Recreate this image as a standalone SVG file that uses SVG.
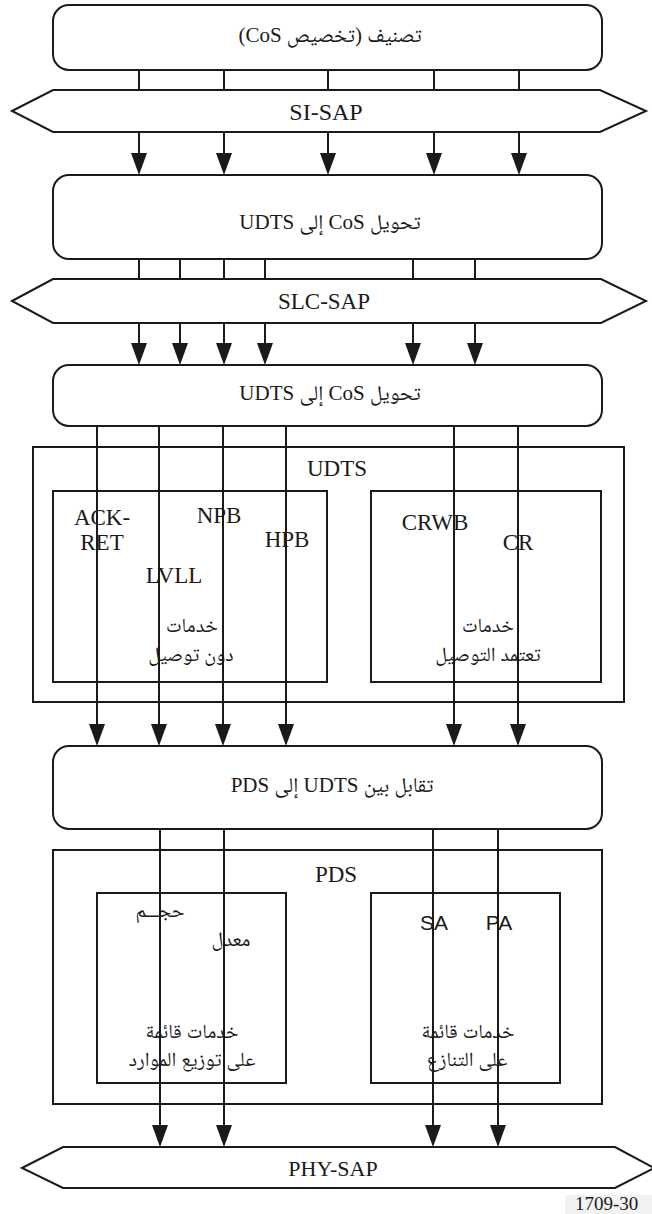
<svg xmlns="http://www.w3.org/2000/svg" width="652" height="1214" viewBox="0 0 652 1214">
<style>
.box{fill:#fff;stroke:#1a1a1a;stroke-width:2}
.frame{fill:none;stroke:#1a1a1a;stroke-width:2}
.ln{stroke:#1a1a1a;stroke-width:2;fill:none}
.arr{stroke:#1a1a1a;stroke-width:2;fill:none;marker-end:url(#ah)}
.t{font-family:"Liberation Serif","Noto Naskh Arabic","DejaVu Sans",serif;font-size:23px;fill:#1a1a1a;text-anchor:middle}
.ar{font-family:"Liberation Serif","Noto Naskh Arabic","DejaVu Sans",serif;font-size:20px;fill:#1a1a1a;text-anchor:middle;direction:rtl}
.s{font-family:"Liberation Sans",Arial,sans-serif;font-size:21px;fill:#1a1a1a;text-anchor:middle}
</style>
<defs>
<marker id="ah" viewBox="0 -8 22 16" refX="12" refY="0" markerWidth="22" markerHeight="16" markerUnits="userSpaceOnUse" orient="auto">
<path d="M0,-8 L22,0 L0,8 Z" fill="#1a1a1a"/>
</marker>
</defs>
<rect width="652" height="1214" fill="#fff"/>

<g id="classify">
<rect class="box" x="53" y="5" width="549" height="65" rx="16"/>
<text class="ar" x="330" y="42" style="font-size:21px">تصنيف (تخصيص CoS)</text>
</g>

<g id="si-sap">
<polygon class="box" points="12,111 53,90 600,90 646,111 600,132 53,132"/>
<text class="t" x="326" y="120" style="font-size:24px">SI-SAP</text>
</g>

<g id="cos-udts-1">
<rect class="box" x="53" y="175" width="549" height="84" rx="16"/>
<text class="ar" x="330" y="229" style="font-size:21px">تحويل CoS إلى UDTS</text>
</g>

<g id="slc-sap">
<polygon class="box" points="12,301 53,279 601,279 646,301 601,323 53,323"/>
<text class="t" x="324" y="309">SLC-SAP</text>
</g>

<g id="cos-udts-2">
<rect class="box" x="53" y="365" width="549" height="61" rx="16"/>
<text class="ar" x="330" y="400" style="font-size:21px">تحويل CoS إلى UDTS</text>
</g>

<g id="udts">
<rect class="frame" x="33" y="447" width="591" height="255"/>
<text class="t" x="337" y="476">UDTS</text>
<rect class="frame" x="53" y="491" width="274" height="191"/>
<rect class="frame" x="371" y="491" width="230" height="191"/>
<text class="t" x="102" y="525">ACK-</text>
<text class="t" x="102" y="550">RET</text>
<text class="t" x="219" y="523">NPB</text>
<text class="t" x="287" y="547">HPB</text>
<text class="t" x="174" y="583">LVLL</text>
<text class="t" x="435" y="530">CRWB</text>
<text class="t" x="518" y="550">CR</text>
<text class="ar" x="192" y="632">خدمات</text>
<text class="ar" x="191" y="661">دون توصيل</text>
<text class="ar" x="488" y="632">خدمات</text>
<text class="ar" x="488" y="661">تعتمد التوصيل</text>
</g>

<g id="udts-pds">
<rect class="box" x="53" y="746" width="549" height="83" rx="16"/>
<text class="ar" x="332" y="792" style="font-size:21px">تقابل بين UDTS إلى PDS</text>
</g>

<g id="pds">
<rect class="frame" x="53" y="850" width="549" height="254"/>
<text class="t" x="336" y="882">PDS</text>
<rect class="frame" x="97" y="893" width="189" height="190"/>
<rect class="frame" x="371" y="893" width="189" height="190"/>
<text class="ar" x="160" y="917">حجـــم</text>
<text class="ar" x="231" y="946">معدل</text>
<text class="s" x="434" y="930">SA</text>
<text class="s" x="499" y="930">PA</text>
<text class="ar" x="192" y="1038">خدمات قائمة</text>
<text class="ar" x="192" y="1066">على توزيع الموارد</text>
<text class="ar" x="468" y="1038">خدمات قائمة</text>
<text class="ar" x="467" y="1066">على التنازع</text>
</g>

<g id="phy-sap">
<polygon class="box" points="22,1168 63,1147 615,1147 654,1168 615,1188 63,1188"/>
<text class="t" x="333" y="1176" style="font-size:22px">PHY-SAP</text>
</g>

<g id="connectors">
<line class="ln" x1="139" y1="70" x2="139" y2="90"/>
<line class="ln" x1="224" y1="70" x2="224" y2="90"/>
<line class="ln" x1="328" y1="70" x2="328" y2="90"/>
<line class="ln" x1="434" y1="70" x2="434" y2="90"/>
<line class="ln" x1="519" y1="70" x2="519" y2="90"/>
<line class="arr" x1="139" y1="132" x2="139" y2="165"/>
<line class="arr" x1="224" y1="132" x2="224" y2="165"/>
<line class="arr" x1="328" y1="132" x2="328" y2="165"/>
<line class="arr" x1="434" y1="132" x2="434" y2="165"/>
<line class="arr" x1="519" y1="132" x2="519" y2="165"/>

<line class="ln" x1="139" y1="259" x2="139" y2="279"/>
<line class="ln" x1="180" y1="259" x2="180" y2="279"/>
<line class="ln" x1="224" y1="259" x2="224" y2="279"/>
<line class="ln" x1="265" y1="259" x2="265" y2="279"/>
<line class="ln" x1="413" y1="259" x2="413" y2="279"/>
<line class="ln" x1="475" y1="259" x2="475" y2="279"/>
<line class="arr" x1="139" y1="323" x2="139" y2="355"/>
<line class="arr" x1="180" y1="323" x2="180" y2="355"/>
<line class="arr" x1="224" y1="323" x2="224" y2="355"/>
<line class="arr" x1="265" y1="323" x2="265" y2="355"/>
<line class="arr" x1="413" y1="323" x2="413" y2="355"/>
<line class="arr" x1="475" y1="323" x2="475" y2="355"/>

<line class="arr" x1="97" y1="426" x2="97" y2="736"/>
<line class="arr" x1="159" y1="426" x2="159" y2="736"/>
<line class="arr" x1="223" y1="426" x2="223" y2="736"/>
<line class="arr" x1="286" y1="426" x2="286" y2="736"/>
<line class="arr" x1="454" y1="426" x2="454" y2="736"/>
<line class="arr" x1="518" y1="426" x2="518" y2="736"/>

<line class="arr" x1="160" y1="829" x2="160" y2="1137"/>
<line class="arr" x1="224" y1="829" x2="224" y2="1137"/>
<line class="arr" x1="433" y1="829" x2="433" y2="1137"/>
<line class="arr" x1="498" y1="829" x2="498" y2="1137"/>
</g>

<g id="figure-number">
<rect x="565" y="1195" width="87" height="19" fill="#f2f2f2"/>
<text x="575" y="1210" style="font-family:'Liberation Serif',serif;font-size:19px;fill:#1a1a1a">1709-30</text>
</g>
</svg>
